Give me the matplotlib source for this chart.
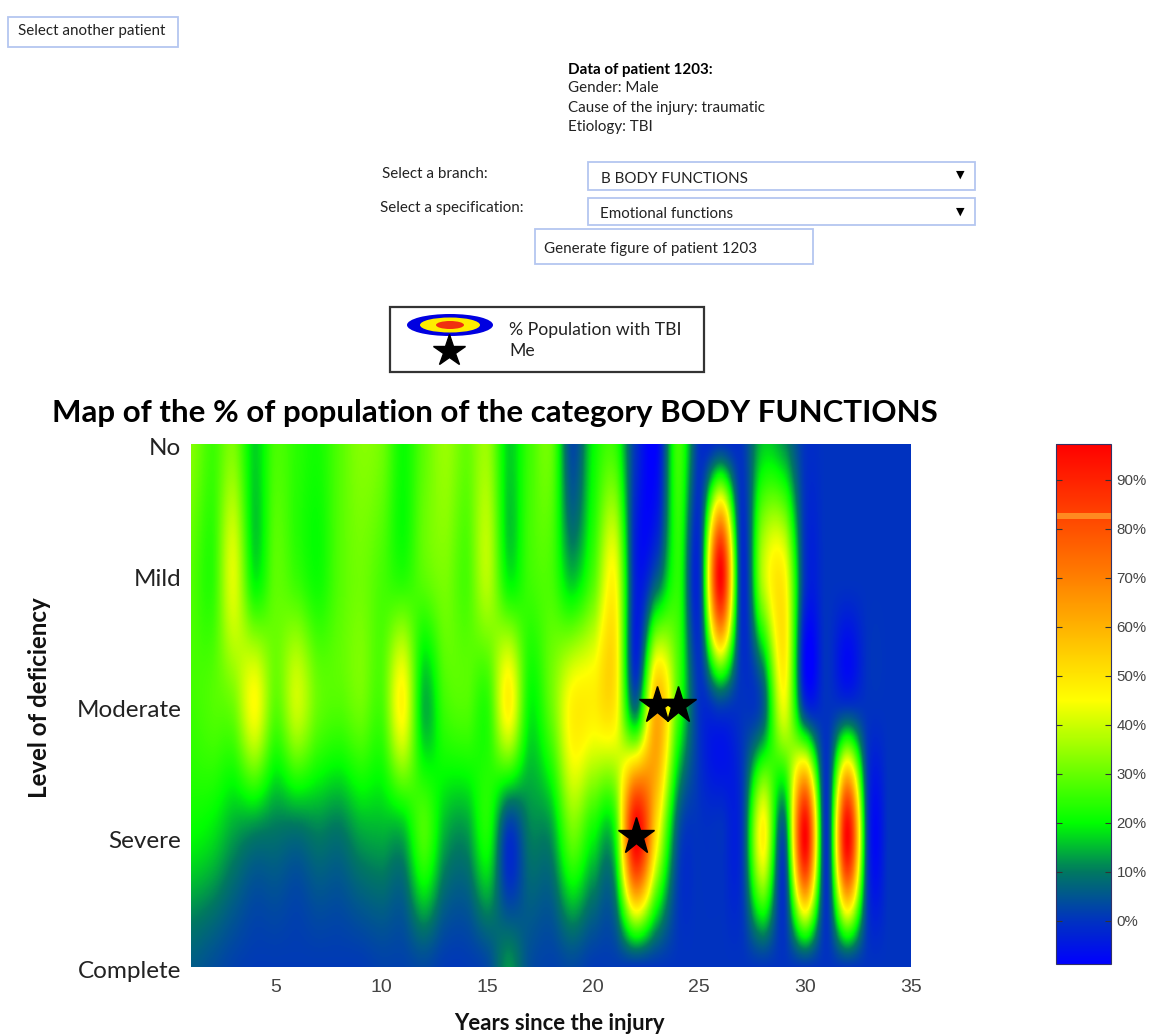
import numpy as np
import matplotlib
matplotlib.use("Agg")
import matplotlib.pyplot as plt
from matplotlib.colors import LinearSegmentedColormap
from matplotlib.patches import Rectangle, Ellipse
from matplotlib.transforms import ScaledTranslation

years = np.arange(1, 36)
levels = ["Complete", "Severe", "Moderate", "Mild", "No"]
x_ticks = [5, 10, 15, 20, 25, 30, 35]
bar_ticks = [0, 10, 20, 30, 40, 50, 60, 70, 80, 90]

complete = [6, 4, 2, 1, 1, 1, 1, 1, 1, 2, 2, 3, 1, 1, 3, 12, 4, 2, 3, 1, 1, 0, 0, 0, 0, 0, 0, 0, 0, 0, 0, 0, 0, 0, 0]
severe = [20, 18, 13, 10, 9, 8, 10, 9, 13, 14, 14, 27, 14, 12, 22, 0, 10, 12, 30, 20, 20, 97, 48, 5, 0, 0, 0, 47, 5, 97, 0, 97, 0, 0, 0]
moderate = [26, 28, 31, 45, 29, 40, 30, 28, 31, 27, 46, 15, 26, 28, 24, 47, 20, 30, 47, 48, 49, 8, 60, 27, 0, 2, 0, 5, 43, 0, 0, 0, 0, 0, 0]
mild = [28, 24, 42, 19, 29, 25, 21, 28, 31, 27, 23, 29, 32, 27, 38, 19, 26, 27, 15, 27, 45, -3, 5, 24, 0, 97, 0, 38, 47, 0, 0, 0, 0, 0, 0]
no = [33, 26, 32, 17, 27, 24, 22, 28, 33, 31, 21, 29, 35, 30, 35, 17, 26, 30, 3, 20, 25, 0, -8, 26, 0, 0, 0, 16, 12, 0, 0, 0, 0, 0, 0]
me_x = [22, 23, 24]
me_y = [2, 3, 3]

title = "Map of the % of population of the category BODY FUNCTIONS"

plt.rcParams["font.family"] = ["Lato", "DejaVu Sans"]
fig = plt.figure(figsize=(11.53, 10.36), dpi=100, facecolor="white")
W, H = 1153, 1036

def axes_px(l, t, r, b):
    return fig.add_axes([l / W, 1 - b / H, (r - l) / W, (b - t) / H])

stops = [(-8.8, (0, 0, 1)), (0, (0, .20, .75)), (10, (0, .47, .38)), (20, (0, 1, 0)),
         (45, (1, 1, 0)), (70, (1, .5, 0)), (97.3, (1, 0, 0))]
vmin, vmax = stops[0][0], stops[-1][0]
cmap = LinearSegmentedColormap.from_list(
    "map", [((v - vmin) / (vmax - vmin), c) for v, c in stops], N=512)

Z = np.array([complete, severe, moderate, mild, no], dtype=float)

ax = axes_px(191, 444, 911, 967)
im = ax.imshow(Z, origin="lower", aspect="auto", cmap=cmap, vmin=vmin, vmax=vmax,
               extent=(years[0] - .5, years[-1] + .5, .5, len(levels) + .5),
               interpolation="catrom", interpolation_stage="data")
ax.set_xlim(1, 35)
ax.set_ylim(1, 5)
ax.plot(me_x, me_y, ls="none", marker="*", ms=28, color="black", mec="black")
ax.set_xticks(x_ticks)
ax.set_yticks(range(1, 6), levels)
ax.tick_params(axis="x", length=0, pad=9, labelsize=14, labelcolor="#444444")
ax.tick_params(axis="y", length=0, pad=7, labelsize=17.5, labelcolor="#222222")
shift = ScaledTranslation(0, -3 / 100, fig.dpi_scale_trans)
for lab in ax.get_yticklabels():
    lab.set_transform(lab.get_transform() + shift)
for lab in ax.get_xticklabels():
    lab.set_family("Liberation Sans")
for s in ax.spines.values():
    s.set_visible(False)

cax = axes_px(1056, 444, 1111, 964)
cb = fig.colorbar(im, cax=cax, ticks=bar_ticks)
cb.ax.set_yticklabels([f"{t}%" for t in bar_ticks], family="Liberation Sans")
cb.ax.tick_params(left=True, right=True, direction="in", length=4, width=.8,
                  color="#333333", labelsize=10.8, labelcolor="#444444", pad=4)
cb.outline.set_edgecolor("#333366")
cb.outline.set_linewidth(.8)
cb.ax.axhspan(82, 83.3, color="#ff8a20", lw=0)

ov = fig.add_axes([0, 0, 1, 1], facecolor="none")
ov.set_xlim(0, W)
ov.set_ylim(H, 0)
ov.axis("off")
ov.set_zorder(5)

def box(l, t, r, b, ec="#b4c6f0", lw=1.3):
    ov.add_patch(Rectangle((l, t), r - l, b - t, fc="white", ec=ec, lw=lw))

def txt(x, y, s, size=10.9, weight="normal", color="#222222", **kw):
    ov.text(x, y + 1, s, fontsize=size, fontweight=weight, color=color, va="center", **kw)

box(8, 17, 178, 47)
txt(18, 30, "Select another patient")
txt(568, 69, "Data of patient 1203:", weight="bold", color="black")
txt(568, 87, "Gender: Male")
txt(568, 107, "Cause of the injury: traumatic")
txt(568, 126, "Etiology: TBI")
txt(382, 173, "Select a branch:")
txt(380, 207, "Select a specification:")
box(588, 162, 975, 190)
txt(601, 178, "B BODY FUNCTIONS")
txt(960, 174, "▼", size=8, family="DejaVu Sans", ha="center", color="black")
box(588, 198, 975, 225)
txt(600, 213, "Emotional functions")
txt(960, 211, "▼", size=8, family="DejaVu Sans", ha="center", color="black")
box(535, 229, 813, 264)
txt(544, 248, "Generate figure of patient 1203")

box(390, 307, 704, 372, ec="#333333", lw=1.6)
ov.add_patch(Ellipse((450, 325), 86, 22, fc="#0000e0", ec="none"))
ov.add_patch(Ellipse((450, 325), 60, 15, fc="#ffee00", ec="none"))
ov.add_patch(Ellipse((450, 325), 28, 8, fc="#f03010", ec="none"))
ov.plot([449], [351], marker="*", ms=24, color="black", mec="black")
txt(509, 329, "% Population with TBI", size=12.7)
txt(509, 350, "Me", size=12.7)

txt(495, 412, title, size=22.5, weight="bold", color="black", ha="center")
txt(559, 1022, "Years since the injury", size=15.9, weight="bold", color="#111111", ha="center")
ov.text(40, 698, "Level of deficiency", fontsize=17.4, fontweight="bold", color="#111111",
        rotation=90, ha="center", va="center")

fig.savefig("out.png", dpi=100)
